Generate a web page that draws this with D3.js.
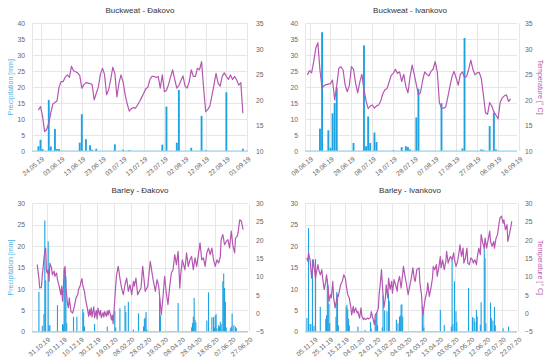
<!DOCTYPE html>
<html><head><meta charset="utf-8">
<script src="https://cdn.jsdelivr.net/npm/d3@7"></script>
<style>
body{margin:0;background:#fff}
svg{display:block}
text{font-family:"Liberation Sans",Arial,Helvetica,sans-serif}
</style>
</head><body>
<svg id="c" width="550" height="361"></svg>
<script>
// ---------------- DATA ----------------
// Buckweat - Đakovo (daily from 23.05.19)
const bwDjStart = "23.05.19";
const bwDjTicks = ["24.05.19","03.06.19","13.06.19","23.06.19","03.07.19","13.07.19","23.07.19","02.08.19","12.08.19","22.08.19","01.09.19"];
const bwDjTemp = [18.0,18.7,16.8,13.8,14.2,15.5,17.5,19.2,19.5,19.8,22.5,23.6,23.6,24.5,24.9,24.4,26.6,25.7,25.5,25.3,
  24.8,22.3,23.0,23.4,23.3,23.2,23.0,20.0,21.3,22.5,25.0,26.2,25.0,21.0,22.0,24.0,26.4,25.2,20.6,23.3,
  24.9,23.5,21.0,19.2,17.8,18.3,18.5,18.4,19.0,19.7,20.5,21.3,22.2,22.5,24.0,24.6,24.6,24.4,24.6,22.3,
  24.9,21.6,21.9,23.0,24.5,25.9,24.0,22.3,22.8,23.8,24.7,22.7,22.3,23.5,25.9,24.6,24.6,26.2,25.9,27.5,
  22.3,17.7,18.1,18.8,20.8,22.9,25.2,23.3,22.7,24.6,25.3,24.6,24.0,24.9,24.0,24.6,23.9,22.9,23.4,17.4];
const bwDjRainDay = [0,1,2,5,6,8,9,10,20,21,23,25,26,28,37,41,44,60,62,67,68,74,79,81,91,99];
const bwDjRain    = [1.5,3.5,0.6,16,1.4,6.9,0.6,0.6,2.6,11.5,3.7,1.8,0.4,0.7,2.1,0.4,0.3,2.0,13.9,2.6,19.1,1.0,11,0.3,18.4,0.7];

// Buckweat - Ivankovo (daily from 07.06.19)
const bwIvStart = "07.06.19";
const bwIvTicks = ["08.06.19","18.06.19","28.06.19","08.07.19","18.07.19","28.07.19","07.08.19","17.08.19","27.08.19","06.09.19","16.09.19"];
const bwIvTemp = [24.9,25.7,25.3,27.5,30.1,31.2,25.8,22.3,22.8,23.0,23.1,23.2,23.9,20.0,22.8,26.2,26.5,25.9,23.0,21.6,
  22.8,26.5,26.0,23.3,21.4,23.5,25.0,22.0,19.8,18.3,18.8,19.0,18.4,18.8,19.0,19.8,21.2,22.0,22.2,23.5,
  24.8,25.2,26.0,25.2,25.5,23.6,25.0,22.6,21.4,24.5,26.8,25.0,23.0,21.0,21.5,23.8,25.5,25.0,24.7,25.6,
  26.0,27.5,25.5,19.5,18.4,18.4,18.6,20.5,22.6,24.5,25.6,24.3,22.9,25.0,25.5,24.4,24.6,26.0,27.8,26.0,
  24.9,25.3,25.4,24.2,21.0,17.5,17.2,19.5,18.8,17.7,17.0,16.3,19.5,20.4,20.8,21.0,19.7,20.2];
const bwIvRainDay = [6,7,10,11,12,13,14,22,27,28,29,30,32,33,41,45,47,48,49,52,53,64,74,75,83,84,87,89,90];
const bwIvRain    = [7.0,37.2,6.5,1.0,11.8,15.0,19.9,2.5,33.1,1.5,10.8,2.5,5.8,2.8,0.2,1.2,1.5,1.2,0.5,10.5,19.5,15.0,0.8,35.4,0.5,0.3,7.8,12.0,0.5];

// Barley - Đakovo (day offsets from 20.10.19)
const brDjStart = "20.10.19";
const brDjTicks = ["31.10.19","20.11.19","10.12.19","30.12.19","19.01.20","08.02.20","28.02.20","19.03.20","08.04.20","28.04.20","18.05.20","07.06.20","27.06.20"];
const brDjTempDay = [0,2,3,5,6,7,8,9,10,11,12,13,14,15,17,18,20,21,23,24,26,28,29,30,31,32,33,34,36,37,38,39,40,42,44,46,48,49,51,52,53,54,56,57,59,61,62,63,64,65,67,68,70,71,72,74,75,76,78,79,80,82,83,84,85,87,88,89,90,91,92,94,96,98,100,102,104,106,108,110,112,114,115,117,119,123,125,128,131,134,137,140,142,144,146,147,149,151,153,155,157,159,161,163,165,167,169,170,172,175,177,179,181,183,185,187,189,191,193,195,197,199,201,203,205,207,209,211,213,215,217,218,220,222,224,226,228,230,232,234,235,237,238,240,242,244];
const brDjTemp    = [13.3,9.6,6.9,7.1,10.5,12.4,15.1,16.9,17.8,11.5,11.0,11.9,8.7,13.7,12.4,10.5,11.5,10.1,11.0,9.2,7.4,5.1,7.4,3.3,6.9,11.9,12.8,6.9,2.4,1.5,4.2,2.4,0.5,0.1,1.9,4.2,5.1,6.5,7.6,8.7,9.5,7.6,6.0,4.2,1.9,-0.8,1.0,-0.5,1.5,-1.0,1.8,-1.2,0.8,-1.5,1.4,-0.5,0.8,-1.2,0.2,-1.0,0.5,-0.8,0.6,-0.5,0.9,-0.5,-1.8,-0.5,-2.8,0.5,4.2,10.5,12.8,9.6,6.9,5.1,7.8,9.6,6.0,7.8,5.1,8.7,7.4,9.6,5.1,6.9,12.8,6.0,7.4,14.2,9.6,6.0,9.2,7.4,2.4,-0.4,4.2,10.1,5.5,2.4,7.4,11.0,11.9,16.0,13.3,16.9,6.9,10.5,14.6,11.9,16.5,12.8,14.6,15.5,11.9,15.1,12.8,16.0,19.2,14.6,15.1,12.8,16.5,17.8,16.0,17.8,14.6,12.8,14.6,13.7,15.5,20.1,21.5,18.7,19.6,20.1,17.8,22.4,18.3,16.5,20.5,21.0,21.9,25.5,25.1,22.8];
const brDjRainDay = [2,6,8,9,10,13,14,15,24,30,31,32,33,34,35,43,47,54,55,56,68,83,92,93,98,104,105,108,114,120,126,127,128,129,130,145,146,167,183,184,185,186,187,188,201,203,207,209,210,211,212,213,215,216,217,218,220,221,222,223,224,229,230,231,233,235,236];
const brDjRain    = [9.3,1.4,4.1,26,12,21.1,1.5,1.5,6.2,1.8,1.5,15.0,12.9,12.9,2.0,3.5,3.5,5.3,4.5,1.2,1.8,1.2,4.8,1.0,5.5,6.1,4.6,7.0,0.5,4.3,1.2,3.0,3.3,4.6,0.5,7.9,3.8,6.7,1.0,2.0,3.5,7.9,2.8,2.2,2.6,9.2,3.4,3.4,1.0,3.8,4.1,0.8,1.5,1.2,2.3,1.8,11.8,13.6,10.2,7.0,1.0,0.8,1.2,4.2,1.5,1.2,0.8];

// Barley - Ivankovo (day offsets from 27.10.19)
const brIvStart = "27.10.19";
const brIvTicks = ["05.11.19","25.11.19","15.12.19","04.01.20","24.01.20","13.02.20","04.03.20","24.03.20","13.04.20","03.05.20","23.05.20","12.06.20","02.07.20","22.07.20"];
const brIvTempDay = [0,1,2,4,5,6,8,9,11,12,14,15,17,19,20,22,24,25,27,28,30,31,33,34,36,37,39,40,42,43,45,47,49,50,52,54,56,57,59,60,62,64,65,67,69,70,72,73,75,77,79,81,82,84,86,87,89,91,92,94,95,96,98,99,100,101,103,104,106,108,109,111,113,115,116,118,120,121,123,125,127,129,131,133,135,137,138,140,143,144,146,147,148,149,151,153,154,156,158,160,161,163,165,166,168,170,171,173,175,177,178,180,182,183,185,187,188,190,192,194,195,197,199,200,202,204,205,207,209,211,212,214,216,217,219,221,222,224,226,227,229,231,233,234,236,238,239,241,243,244,246,248,250,251,253,255,256,258,260,261];
const brIvTemp    = [15.1,14.2,16.5,14.6,11.9,9.6,14.6,12.8,9.6,11.0,13.3,11.9,10.5,11.9,9.6,6.5,8.7,10.5,6.9,3.3,5.1,4.2,8.7,4.2,1.5,2.8,5.1,4.6,6.9,7.8,8.7,10.5,9.6,7.8,5.1,4.2,1.5,-0.4,1.9,0.1,1.5,0.1,0.5,-1.3,1.5,-0.8,-1.7,-1.3,-1.7,-1.3,-1.5,-1.1,0.5,-1.3,-3.1,-0.4,0.1,1.5,5.1,9.2,11.9,8.3,1.5,2.8,4.2,7.8,4.2,9.6,6.5,8.7,5.5,9.2,7.8,6.0,8.3,10.1,6.9,8.7,12.8,10.1,7.8,5.1,7.4,9.6,12.4,9.2,8.7,11.9,12.4,8.3,5.1,1.5,-0.4,1.5,4.2,6.0,8.3,4.6,6.9,9.6,12.8,11.9,13.3,10.1,12.4,15.5,12.4,14.6,11.9,14.2,16.9,13.7,15.1,15.5,14.6,16.5,14.6,12.8,14.2,16.9,18.7,15.5,17.8,13.7,15.1,17.8,13.7,13.3,15.1,14.6,13.7,14.6,13.3,15.1,17.8,16.0,21.5,19.2,17.8,20.5,17.8,20.1,22.4,19.6,18.3,19.6,17.8,20.5,21.5,23.3,26.0,26.5,24.6,25.5,22.8,24.2,19.6,21.5,23.7,25.1];
const brIvRainDay = [0,2,4,5,7,9,11,17,24,25,26,27,28,29,37,38,39,40,50,51,52,53,54,65,74,81,82,87,88,89,90,96,97,99,102,104,105,114,116,118,119,120,121,122,147,148,149,170,175,184,185,186,188,190,191,206,211,213,214,216,217,221,222,226,227,228,234,235,237,239,240,250,257];
const brIvRain    = [3.2,24.2,1.8,1.8,16.9,1.4,17,5.8,3.0,3.8,12.2,10.8,6.5,2.0,3.5,9.3,8.7,1.5,5.8,6.3,5.2,3.0,1.5,1.2,0.4,2.3,0.7,2.8,4.2,4.4,1.5,1.0,8.5,5.0,4.8,9.0,7.2,2.8,2.0,3.5,3.8,6.3,6.4,3.5,5.9,4.4,1.0,5.1,1.6,1.2,16.8,1.8,11.8,4.8,2.2,10.2,3.4,3.2,2.3,5.1,3.6,1.6,6.9,20.1,17.2,2.0,6.8,3.2,2.6,5.8,1.5,0.8,1.2];

// ---------------- DRAW ----------------
const parse = d3.timeParse("%d.%m.%y");
const svg = d3.select("#c");
const BAR = "#1ea2e2", LINE = "#b557b2", PTITLE = "#4db2df", GRID = "#e6e6e6", TICK = "#666";

function drawPanel(p) {
  const g = svg.append("g");
  const t0 = parse(p.ticks[0]), t1 = parse(p.ticks[p.ticks.length - 1]);
  const x = d3.scaleTime().domain([t0, t1]).range([p.tx0, p.tx1]);
  const yL = d3.scaleLinear().domain(p.yL).range([p.bottom, p.top]);
  const yR = d3.scaleLinear().domain(p.yR).range([p.bottom, p.top]);
  const start = parse(p.start);
  const day = d => d3.timeDay.offset(start, d);
  const pxDay = x(d3.timeDay.offset(t0, 1)) - x(t0);
  const tickDates = p.ticks.map(parse);

  // grid
  const hv = d3.range(p.yL[0], p.yL[1] + 0.01, 5);
  g.selectAll(".hg").data(hv).join("line")
    .attr("x1", p.left).attr("x2", p.right)
    .attr("y1", d => Math.round(yL(d)) + 0.5).attr("y2", d => Math.round(yL(d)) + 0.5)
    .attr("stroke", GRID).attr("stroke-width", 1);
  g.selectAll(".vg").data(tickDates).join("line")
    .attr("x1", d => Math.round(x(d)) + 0.5).attr("x2", d => Math.round(x(d)) + 0.5)
    .attr("y1", p.top).attr("y2", p.bottom)
    .attr("stroke", GRID).attr("stroke-width", 1);
  g.append("line").attr("x1", p.left + 0.5).attr("x2", p.left + 0.5).attr("y1", p.top).attr("y2", p.bottom).attr("stroke", GRID);

  // bars
  const bw = Math.max(pxDay * 0.9, 1.1);
  const rain = p.rainDay.map((d, i) => ({ d: day(d), v: p.rain[i] }));
  g.selectAll(".bar").data(rain).join("rect")
    .attr("x", d => x(d.d) - bw / 2).attr("width", bw)
    .attr("y", d => yL(d.v)).attr("height", d => yL(0) - yL(d.v))
    .attr("fill", BAR);
  // zero line
  g.append("line").attr("x1", p.left).attr("x2", p.right)
    .attr("y1", yL(0)).attr("y2", yL(0)).attr("stroke", "#8fcfea").attr("stroke-width", 1);

  // temperature line
  const pts = p.tempDay ? p.tempDay.map((d, i) => [day(d), p.temp[i]]) : p.temp.map((v, i) => [day(i), v]);
  g.append("path").datum(pts)
    .attr("d", d3.line().x(d => x(d[0])).y(d => yR(d[1])))
    .attr("fill", "none").attr("stroke", LINE).attr("stroke-width", 1.2).attr("stroke-linejoin", "round");

  const font = '"Liberation Sans",Arial,sans-serif';
  // left axis
  const la = g.append("g").attr("transform", `translate(${p.left},0)`)
    .call(d3.axisLeft(yL).tickValues(hv).tickSize(0).tickPadding(7));
  la.select(".domain").remove();
  la.selectAll("text").attr("fill", TICK).style("font-size", "6.8px").style("font-family", font);
  // right axis
  const rv = d3.range(p.yR[0], p.yR[1] + 0.01, 5);
  const ra = g.append("g").attr("transform", `translate(${p.right},0)`)
    .call(d3.axisRight(yR).tickValues(rv).tickSize(0).tickPadding(8));
  ra.select(".domain").remove();
  ra.selectAll("text").attr("fill", TICK).style("font-size", "6.8px").style("font-family", font);
  // bottom axis
  const ba = g.append("g").attr("transform", `translate(0,${p.bottom})`)
    .call(d3.axisBottom(x).tickValues(tickDates).tickFormat(d3.timeFormat("%d.%m.%y")).tickSize(0));
  ba.select(".domain").remove();
  ba.selectAll("text").attr("fill", TICK).style("font-size", "6.6px").style("font-family", font)
    .attr("text-anchor", "end").attr("y", 0).attr("dy", "0.35em")
    .attr("transform", "translate(2,7) rotate(-40)");

  // title
  g.append("text").attr("x", p.cx).attr("y", p.titleY).attr("text-anchor", "middle")
    .attr("fill", "#333").style("font-size", "8px").text(p.title);
  if (p.leftTitle) {
    g.append("text").attr("transform", `translate(${p.left - 21},${(p.top + p.bottom) / 2}) rotate(-90)`)
      .attr("text-anchor", "middle").attr("dy", "0.35em").attr("fill", PTITLE).style("font-size", "7px").text("Precipitation [mm]");
  }
  if (p.rightTitle) {
    g.append("text").attr("transform", `translate(${p.right + 23},${(p.top + p.bottom) / 2}) rotate(90)`)
      .attr("text-anchor", "middle").attr("dy", "0.35em").attr("fill", LINE).style("font-size", "7px").text("Temperature [° C]");
  }
}

drawPanel({ title: "Buckweat - Đakovo", cx: 140, titleY: 13, left: 32, right: 248, top: 23.3, bottom: 151,
  tx0: 40.5, tx1: 247, yL: [0, 40], yR: [10, 35], ticks: bwDjTicks, start: bwDjStart,
  temp: bwDjTemp, rainDay: bwDjRainDay, rain: bwDjRain, leftTitle: true });
drawPanel({ title: "Buckweat - Ivankovo", cx: 410, titleY: 13, left: 305, right: 517, top: 23.3, bottom: 151,
  tx0: 309.5, tx1: 519, yL: [0, 40], yR: [10, 35], ticks: bwIvTicks, start: bwIvStart,
  temp: bwIvTemp, rainDay: bwIvRainDay, rain: bwIvRain, rightTitle: true });
drawPanel({ title: "Barley - Đakovo", cx: 140, titleY: 193, left: 32, right: 248, top: 203.3, bottom: 331.7,
  tx0: 46.5, tx1: 249, yL: [0, 30], yR: [-5, 30], ticks: brDjTicks, start: brDjStart,
  tempDay: brDjTempDay, temp: brDjTemp, rainDay: brDjRainDay, rain: brDjRain, leftTitle: true });
drawPanel({ title: "Barley - Ivankovo", cx: 410, titleY: 193, left: 305, right: 517, top: 203.3, bottom: 331.7,
  tx0: 314, tx1: 518, yL: [0, 30], yR: [-5, 30], ticks: brIvTicks, start: brIvStart,
  tempDay: brIvTempDay, temp: brIvTemp, rainDay: brIvRainDay, rain: brIvRain, rightTitle: true });
</script>
</body></html>
